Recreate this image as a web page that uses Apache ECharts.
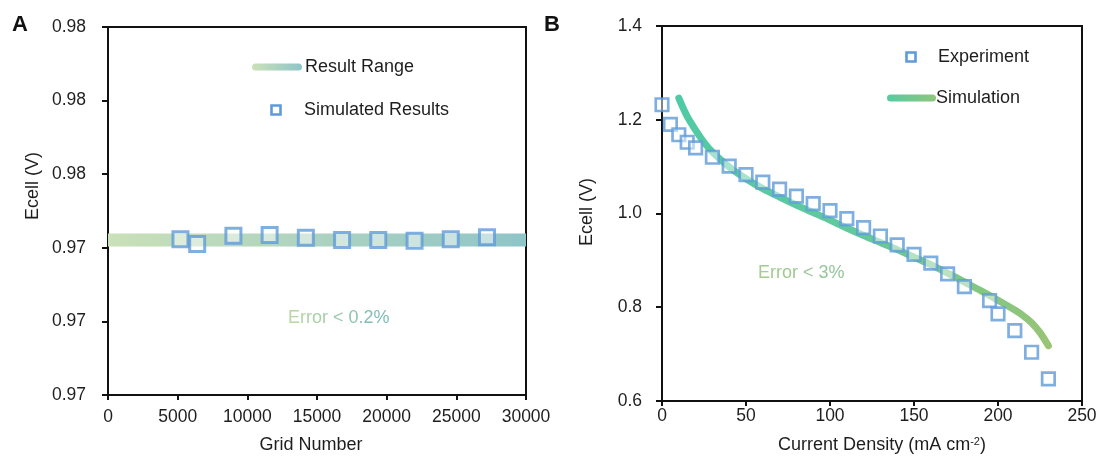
<!DOCTYPE html>
<html>
<head>
<meta charset="utf-8">
<style>
  html, body { margin: 0; padding: 0; background: #fff; }
  #chart { width: 1101px; height: 462px; }
</style>
<script src="https://cdn.jsdelivr.net/npm/echarts@6/dist/echarts.min.js"></script>
</head>
<body>
<div id="chart"></div>
<script>
// ---- Panel A: grid-independence check ----
const gridNumber = [5200, 6400, 9000, 11600, 14200, 16800, 19400, 22000, 24600, 27200];
const gridEcell  = [0.97423, 0.97410, 0.97433, 0.97435, 0.97427, 0.97421, 0.97421, 0.97419, 0.97423, 0.97429];
const rangeGrid  = [0, 30000];
const rangeEcell = [0.97421, 0.97421];

// ---- Panel B: polarisation curve ----
const expCurrent = [0, 5, 10, 15, 20, 30, 40, 50, 60, 70, 80, 90, 100, 110, 120, 130, 140, 150, 160, 170, 180, 195, 200, 210, 220, 230];
const expEcell   = [1.232, 1.190, 1.168, 1.152, 1.140, 1.120, 1.101, 1.083, 1.067, 1.052, 1.037, 1.021, 1.006, 0.989, 0.970, 0.952, 0.933, 0.913, 0.894, 0.871, 0.844, 0.814, 0.786, 0.750, 0.704, 0.647];
const simCurrent = [10, 15, 20, 25, 30, 40, 50, 60, 70, 80, 90, 100, 110, 120, 130, 140, 150, 160, 170, 180, 190, 200, 210, 215, 220, 225, 230];
const simEcell   = [1.246, 1.207, 1.178, 1.152, 1.131, 1.099, 1.074, 1.053, 1.035, 1.018, 1.002, 0.986, 0.969, 0.953, 0.938, 0.923, 0.907, 0.891, 0.873, 0.854, 0.835, 0.815, 0.794, 0.782, 0.767, 0.746, 0.718];

// ---- Axis ranges ----
const axisA = { xMin: 0, xMax: 30000, xStep: 5000, yMin: 0.970, yMax: 0.980, yStep: 0.002 };
const axisB = { xMin: 0, xMax: 250, xStep: 50, yMin: 0.6, yMax: 1.4, yStep: 0.2 };

// ---- Text ----
const labelsA = { x: 'Grid Number', y: 'Ecell (V)', range: 'Result Range', sim: 'Simulated Results', note: 'Error < 0.2%' };
const labelsB = { x: 'Current Density (mA cm{sup|-2})', y: 'Ecell (V)', exp: 'Experiment', sim: 'Simulation', note: 'Error < 3%' };

const FONT = "'Liberation Sans', Arial, Helvetica, sans-serif";
const INK = '#1e1e1e';
const MARK_BLUE = '#5f9bd8';
const MARK_FILL = 'rgba(255,255,255,0.6)';

const pairs = (xs, ys) => xs.map((x, i) => [x, ys[i]]);

function hexToRgb(h) {
  const n = parseInt(h.slice(1), 16);
  return [(n >> 16) & 255, (n >> 8) & 255, n & 255];
}
// Rich text whose characters fade from one colour to another
function shadedText(str, from, to, size) {
  const a = hexToRgb(from), b = hexToRgb(to);
  const rich = {};
  let text = '';
  for (let i = 0; i < str.length; i++) {
    const t = str.length > 1 ? i / (str.length - 1) : 0;
    const c = a.map((v, k) => Math.round(v + (b[k] - v) * t));
    rich['c' + i] = { fill: 'rgb(' + c.join(',') + ')', fontSize: size, fontFamily: FONT };
    text += '{c' + i + '|' + str[i] + '}';
  }
  return { text, rich };
}

function valueAxis(extra) {
  return Object.assign({
    type: 'value',
    axisLine: { show: true, onZero: false, lineStyle: { color: '#111', width: 2 } },
    axisTick: { show: true, inside: false, length: 6, lineStyle: { color: '#111', width: 2 } },
    splitLine: { show: false },
    nameTextStyle: { color: INK, fontSize: 18, fontFamily: FONT }
  }, extra);
}
const tickLabel = (margin, fmt) => ({ color: INK, fontSize: 17.5, fontFamily: FONT, margin: margin, formatter: fmt });

const rangeGradient = new echarts.graphic.LinearGradient(0, 0, 1, 0, [
  { offset: 0, color: '#cbe1b8' }, { offset: 1, color: '#8ec4c8' }
]);
const simGradient = new echarts.graphic.LinearGradient(0, 0, 1, 1, [
  { offset: 0, color: '#4fcaa5' }, { offset: 0.5, color: '#62c99c' }, { offset: 1, color: '#9ac474' }
]);
const simLegendGradient = new echarts.graphic.LinearGradient(0, 0, 1, 0, [
  { offset: 0, color: '#55cba2' }, { offset: 1, color: '#8fc57b' }
]);
const rangeLegendGradient = new echarts.graphic.LinearGradient(0, 0, 1, 0, [
  { offset: 0, color: '#cbe1b8' }, { offset: 1, color: '#8ec4c8' }
]);

const noteA = shadedText(labelsA.note, '#b9d7a2', '#7fbdb9', 18);
const noteB = shadedText(labelsB.note, '#a5cd8b', '#93c59c', 18);

const chart = echarts.init(document.getElementById('chart'), null, { renderer: 'canvas' });

chart.setOption({
  animation: false,
  backgroundColor: '#ffffff',
  title: [
    { text: 'A', left: 12, top: 14, padding: 0, textStyle: { fontSize: 22, fontWeight: 'bold', color: '#111', fontFamily: FONT } },
    { text: 'B', left: 544, top: 14, padding: 0, textStyle: { fontSize: 22, fontWeight: 'bold', color: '#111', fontFamily: FONT } }
  ],
  grid: [
    { left: 108, top: 27, width: 418, height: 368, show: true, borderColor: '#111', borderWidth: 2, backgroundColor: 'transparent' },
    { left: 662, top: 26, width: 420, height: 375, show: true, borderColor: '#111', borderWidth: 2, backgroundColor: 'transparent' }
  ],
  xAxis: [
    valueAxis({
      gridIndex: 0, min: axisA.xMin, max: axisA.xMax, interval: axisA.xStep,
      axisTick: { show: true, length: 5, lineStyle: { color: '#111', width: 2 } },
      axisLabel: tickLabel(13, v => String(v)),
      name: labelsA.x, nameLocation: 'middle', nameGap: 41,
      nameTextStyle: { color: INK, fontSize: 18, fontFamily: FONT, padding: [0, 12, 0, 0] }
    }),
    valueAxis({
      gridIndex: 1, min: axisB.xMin, max: axisB.xMax, interval: axisB.xStep,
      axisTick: { show: true, length: 5, lineStyle: { color: '#111', width: 2 } },
      axisLabel: tickLabel(6, v => String(v)),
      name: labelsB.x, nameLocation: 'middle', nameGap: 35,
      nameTextStyle: {
        color: INK, fontSize: 18, fontFamily: FONT, padding: [0, 0, 0, 20],
        rich: { sup: { color: INK, fontSize: 11, fontFamily: FONT, verticalAlign: 'top', padding: [0, 0, 8, 0] } }
      }
    })
  ],
  yAxis: [
    valueAxis({
      gridIndex: 0, min: axisA.yMin, max: axisA.yMax, interval: axisA.yStep,
      axisLabel: tickLabel(22, v => v.toFixed(2)),
      name: labelsA.y, nameLocation: 'middle', nameGap: 66,
      nameTextStyle: { color: INK, fontSize: 18, fontFamily: FONT, padding: [0, 0, 0, 50] }
    }),
    valueAxis({
      gridIndex: 1, min: axisB.yMin, max: axisB.yMax, interval: axisB.yStep,
      axisLabel: tickLabel(20, v => v.toFixed(1)),
      name: labelsB.y, nameLocation: 'middle', nameGap: 66,
      nameTextStyle: { color: INK, fontSize: 18, fontFamily: FONT, padding: [0, 0, 0, 3] }
    })
  ],
  series: [
    {
      name: labelsA.range, type: 'line', xAxisIndex: 0, yAxisIndex: 0,
      data: pairs(rangeGrid, rangeEcell), symbol: 'none', silent: true, z: 2,
      lineStyle: { width: 13, color: rangeGradient, cap: 'butt' }
    },
    {
      name: labelsA.sim, type: 'scatter', xAxisIndex: 0, yAxisIndex: 0,
      data: pairs(gridNumber, gridEcell), symbol: 'rect', symbolSize: 15, z: 3,
      itemStyle: { color: MARK_FILL, borderColor: MARK_BLUE, borderWidth: 3 }
    },
    {
      name: labelsB.sim, type: 'line', xAxisIndex: 1, yAxisIndex: 1,
      data: pairs(simCurrent, simEcell), symbol: 'none', smooth: 0.3, silent: true, z: 2,
      lineStyle: { width: 7, color: simGradient, cap: 'round', join: 'round' }
    },
    {
      name: labelsB.exp, type: 'scatter', xAxisIndex: 1, yAxisIndex: 1,
      data: pairs(expCurrent, expEcell), symbol: 'rect', symbolSize: 12.5, z: 3,
      itemStyle: { color: MARK_FILL, borderColor: MARK_BLUE, borderWidth: 2.7 }
    }
  ],
  graphic: [
    // Panel A key
    { type: 'line', shape: { x1: 255.5, y1: 67, x2: 298.5, y2: 67 }, style: { stroke: rangeLegendGradient, lineWidth: 7, lineCap: 'round' } },
    { type: 'text', style: { text: labelsA.range, x: 305, y: 67, fill: INK, fontSize: 18, fontFamily: FONT, verticalAlign: 'middle' } },
    { type: 'rect', shape: { x: 271.5, y: 105.5, width: 9, height: 9 }, style: { fill: '#fff', stroke: MARK_BLUE, lineWidth: 2.6 } },
    { type: 'text', style: { text: labelsA.sim, x: 304, y: 110, fill: INK, fontSize: 18, fontFamily: FONT, verticalAlign: 'middle' } },
    { type: 'text', style: { text: noteA.text, rich: noteA.rich, x: 288, y: 318, fontSize: 18, fontFamily: FONT, verticalAlign: 'middle' } },
    // Panel B key
    { type: 'rect', shape: { x: 906.5, y: 52.5, width: 9, height: 9 }, style: { fill: '#fff', stroke: MARK_BLUE, lineWidth: 2.6 } },
    { type: 'text', style: { text: labelsB.exp, x: 938, y: 57, fill: INK, fontSize: 18, fontFamily: FONT, verticalAlign: 'middle' } },
    { type: 'line', shape: { x1: 890.5, y1: 98, x2: 932.5, y2: 98 }, style: { stroke: simLegendGradient, lineWidth: 7, lineCap: 'round' } },
    { type: 'text', style: { text: labelsB.sim, x: 936, y: 98, fill: INK, fontSize: 18, fontFamily: FONT, verticalAlign: 'middle' } },
    { type: 'text', style: { text: noteB.text, rich: noteB.rich, x: 758, y: 273, fontSize: 18, fontFamily: FONT, verticalAlign: 'middle' } }
  ]
});
</script>
</body>
</html>
